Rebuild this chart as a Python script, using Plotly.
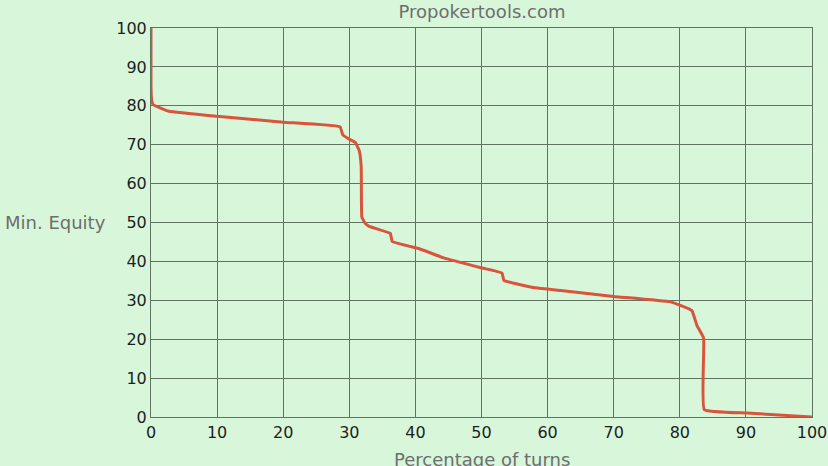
import plotly.graph_objects as go

# Curve: percentage of turns vs minimum equity
pct_turns = [0, 0, 0.1, 0.3, 1.2, 2.7, 10, 20, 28.6, 29.0, 30.1, 30.9, 31.5, 31.8,
             31.9, 32.4, 33.0, 36.2, 36.5, 40.7, 44.3, 50.1, 53.1, 53.4, 58.2,
             62.0, 70.0, 78.6, 81.8, 82.6, 83.6, 83.7, 90.2, 100]
min_equity = [100, 85, 81.5, 80.3, 79.6, 78.6, 77.3, 75.8, 74.6, 72.6, 71.3, 70.6,
              68.5, 64.4, 51.4, 49.8, 49.0, 47.2, 45.1, 43.2, 40.9, 38.3, 37.0,
              35.1, 33.2, 32.5, 31.0, 29.6, 27.4, 23.5, 20.3, 1.9, 1.0, 0]

x_ticks = [0, 10, 20, 30, 40, 50, 60, 70, 80, 90, 100]
y_ticks = [0, 10, 20, 30, 40, 50, 60, 70, 80, 90, 100]

BG = '#d8f7da'
GRID = '#5f7562'
LINE = '#d9543c'
LABEL = '#6e6e6e'
FONT = "DejaVu Sans, Arial, sans-serif"

fig = go.Figure()
fig.add_trace(go.Scatter(
    x=pct_turns, y=min_equity,
    mode='lines',
    line=dict(color=LINE, width=3, shape='spline', smoothing=0.3),
    showlegend=False,
    hoverinfo='skip'
))

axis_common = dict(
    showgrid=True, gridcolor=GRID, gridwidth=1,
    zeroline=False, showline=True, linecolor=GRID, linewidth=1,
    ticks='', tickfont=dict(size=16, color='#1e1e1e', family=FONT),
    range=[0, 100], fixedrange=True, automargin=False,
)

fig.update_xaxes(tickvals=x_ticks, ticklabelstandoff=1, mirror=True, **axis_common)
fig.update_yaxes(tickvals=y_ticks, ticklabelstandoff=0, mirror=True, **axis_common)

fig.update_layout(
    width=828, height=466,
    paper_bgcolor=BG, plot_bgcolor=BG,
    margin=dict(l=151, r=16, t=28, b=49, autoexpand=False),
    font=dict(family=FONT, color=LABEL),
    title=dict(text='Propokertools.com', x=482 / 828, xanchor='center',
               y=1 - 12 / 466, yanchor='middle',
               font=dict(size=18, color=LABEL, family=FONT)),
    annotations=[
        dict(text='Percentage of turns', xref='paper', yref='paper',
             x=(482 - 151) / 661, y=-42 / 389, xanchor='center', yanchor='middle',
             showarrow=False, font=dict(size=18, color=LABEL, family=FONT)),
        dict(text='Min. Equity', xref='paper', yref='paper',
             x=-(151 - 3) / 661, y=(417 - 222) / 389, xanchor='left', yanchor='middle',
             showarrow=False, font=dict(size=18, color=LABEL, family=FONT)),
    ],
)

# drop the default page margin so the figure sits at the window's corner
fig.write_html("out.html", config={'displayModeBar': False}, post_script=(
    "document.body.style.margin='0';"
    "document.body.style.background='" + BG + "';"
))
